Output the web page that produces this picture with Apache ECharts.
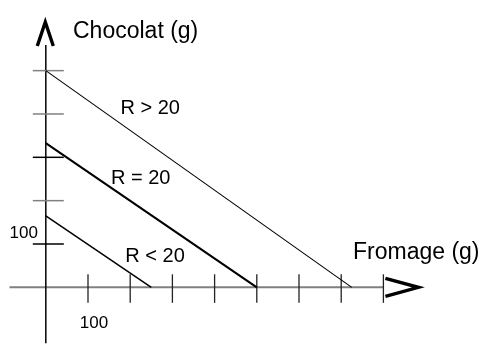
<!DOCTYPE html>
<html>
<head>
<meta charset="utf-8">
<script src="https://cdn.jsdelivr.net/npm/echarts@6/dist/echarts.min.js"></script>
<style>
  html, body { margin: 0; padding: 0; background: #fff; }
  #chart { width: 484px; height: 345px; }
</style>
</head>
<body>
<div id="chart"></div>
<script>
// Budget lines: chocolate (g) against cheese (g) for several incomes R
const budgetNames = ['R > 20', 'R = 20', 'R < 20'];
const budgetHigh = [[0, 500], [725, 0]];
const budgetEqual = [[0, 333], [500, 0]];
const budgetLow = [[0, 165], [250, 0]];

// Tick positions along each axis (grams)
const xTicks = [100, 200, 300, 400, 500, 600, 700, 800];
const yTicks = [100, 200, 300, 400, 500];
// Tick values that carry a printed label
const xLabelled = [100];
const yLabelled = [100];

// Extent of the drawn axis lines (grams, crossing at the origin)
const xAxisSpan = [-86, 800];
const yAxisSpan = [-129, 559];

const FONT = '"Liberation Sans", Arial, sans-serif';
const yTickShade = ['#000', '#808080', '#000', '#808080', '#808080'];

const chart = echarts.init(document.getElementById('chart'), null, { renderer: 'canvas' });

function renderAxes(params, api) {
  const children = [];
  const o = api.coord([0, 0]);
  const xs = api.coord([xAxisSpan[0], 0]);
  const xe = api.coord([xAxisSpan[1], 0]);
  const ys = api.coord([0, yAxisSpan[0]]);
  const ye = api.coord([0, yAxisSpan[1]]);

  // horizontal axis
  children.push({ type: 'line', shape: { x1: xs[0], y1: xs[1], x2: xe[0], y2: xe[1] },
    style: { stroke: '#808080', lineWidth: 2 } });
  // vertical axis
  children.push({ type: 'line', shape: { x1: ys[0], y1: ys[1], x2: ye[0], y2: ye[1] },
    style: { stroke: '#111', lineWidth: 1.6 } });

  xTicks.forEach(function (v) {
    const p = api.coord([v, 0]);
    children.push({ type: 'line', shape: { x1: p[0], y1: p[1] - 13, x2: p[0], y2: p[1] + 15.5 },
      style: { stroke: '#222', lineWidth: 1.3 } });
  });
  yTicks.forEach(function (v, i) {
    const p = api.coord([0, v]);
    children.push({ type: 'line', shape: { x1: p[0] - 13, y1: p[1], x2: p[0] + 18, y2: p[1] },
      style: { stroke: yTickShade[i], lineWidth: 1.5 } });
  });

  xLabelled.forEach(function (v) {
    const p = api.coord([v, 0]);
    children.push({ type: 'text', x: p[0] + 6, y: p[1] + 35.5,
      style: { text: String(v), font: '17px ' + FONT, fill: '#000', align: 'center', verticalAlign: 'middle' } });
  });
  yLabelled.forEach(function (v) {
    const p = api.coord([0, v]);
    children.push({ type: 'text', x: p[0] - 22, y: p[1] - 10.5,
      style: { text: String(v), font: '17px ' + FONT, fill: '#000', align: 'center', verticalAlign: 'middle' } });
  });

  // open arrow heads at the axis ends
  children.push({ type: 'polyline', shape: { points: [[xe[0] + 2, xe[1] - 9], [xe[0] + 35, xe[1]], [xe[0] + 2, xe[1] + 9]] },
    style: { stroke: '#000', lineWidth: 3.4, fill: null, lineJoin: 'miter' } });
  children.push({ type: 'polyline', shape: { points: [[o[0] - 8.5, ye[1] + 1], [o[0] - 0.5, ye[1] - 23], [o[0] + 7.5, ye[1] + 1]] },
    style: { stroke: '#000', lineWidth: 3.4, fill: null, lineJoin: 'miter' } });

  return { type: 'group', children: children };
}

const option = {
  animation: false,
  backgroundColor: '#fff',
  grid: { left: 3.6, top: 27.3, width: 422, height: 281.7, containLabel: false },
  xAxis: { type: 'value', min: -100, max: 900, show: false },
  yAxis: { type: 'value', min: -50, max: 600, show: false },
  series: [
    { type: 'custom', renderItem: renderAxes, data: [0], clip: false, silent: true, z: 1 },
    { name: budgetNames[0], type: 'line', data: budgetHigh, symbol: 'none', z: 3,
      lineStyle: { color: '#000', width: 1.1 } },
    { name: budgetNames[1], type: 'line', data: budgetEqual, symbol: 'none', z: 3,
      lineStyle: { color: '#000', width: 2.1 } },
    { name: budgetNames[2], type: 'line', data: budgetLow, symbol: 'none', z: 3,
      lineStyle: { color: '#000', width: 1.5 } }
  ],
  graphic: [
    { type: 'text', x: 73, y: 32, style: { text: 'Chocolat (g)', font: '23px ' + FONT, fill: '#000', verticalAlign: 'middle' } },
    { type: 'text', x: 353, y: 252.5, style: { text: 'Fromage (g)', font: '23px ' + FONT, fill: '#000', verticalAlign: 'middle' } },
    { type: 'text', x: 120.5, y: 108.4, style: { text: budgetNames[0], font: '20px ' + FONT, fill: '#000', verticalAlign: 'middle' } },
    { type: 'text', x: 111, y: 178.3, style: { text: budgetNames[1], font: '20px ' + FONT, fill: '#000', verticalAlign: 'middle' } },
    { type: 'text', x: 125.3, y: 256.3, style: { text: budgetNames[2], font: '20px ' + FONT, fill: '#000', verticalAlign: 'middle' } }
  ]
};

chart.setOption(option);
</script>
</body>
</html>
